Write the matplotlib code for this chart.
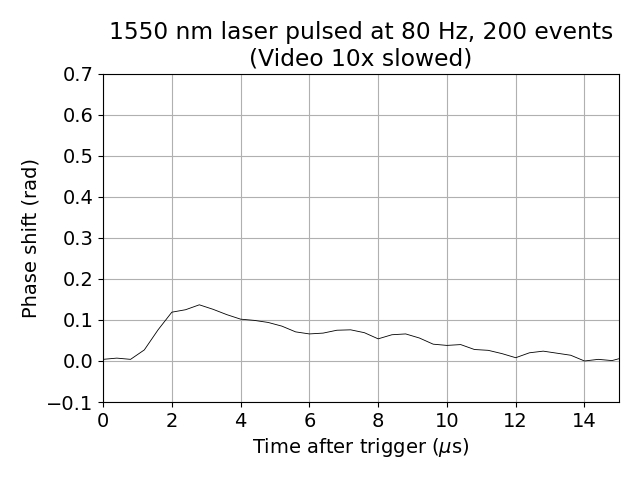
import numpy as np
import matplotlib
matplotlib.use("Agg")
import matplotlib.pyplot as plt

time_us = [0.0, 0.4, 0.8, 1.2, 1.6, 2.0, 2.4, 2.8, 3.2, 3.6, 4.0, 4.4, 4.8, 5.2, 5.6,
           6.0, 6.4, 6.8, 7.2, 7.6, 8.0, 8.4, 8.8, 9.2, 9.6, 10.0, 10.4, 10.8, 11.2,
           11.6, 12.0, 12.4, 12.8, 13.2, 13.6, 14.0, 14.4, 14.8, 15.2]
phase = [0.004, 0.007, 0.004, 0.027, 0.076, 0.119, 0.125, 0.137, 0.126, 0.113, 0.102,
         0.099, 0.094, 0.085, 0.071, 0.066, 0.068, 0.075, 0.076, 0.069, 0.054, 0.064,
         0.066, 0.056, 0.041, 0.038, 0.040, 0.028, 0.026, 0.018, 0.008, 0.020, 0.024,
         0.019, 0.014, 0.000, 0.004, 0.001, 0.010]

fig, ax = plt.subplots(figsize=(6.4, 4.8), dpi=100)
ax.plot(time_us, phase, color="black", linewidth=0.6)
ax.set_xlim(0, 15)
ax.set_ylim(-0.1, 0.7)
ax.set_xticks(np.arange(0, 15, 2))
ax.set_yticks(np.round(np.arange(-0.1, 0.71, 0.1), 1))
ax.grid(True)
ax.tick_params(labelsize=14)
ax.set_xlabel(r"Time after trigger ($\mu$s)", fontsize=14)
ax.set_ylabel("Phase shift (rad)", fontsize=14)
ax.set_title("1550 nm laser pulsed at 80 Hz, 200 events\n(Video 10x slowed)", fontsize=16.8)
fig.subplots_adjust(left=0.161, right=0.967, top=0.846, bottom=0.1625)
fig.savefig("out.png", dpi=100)
